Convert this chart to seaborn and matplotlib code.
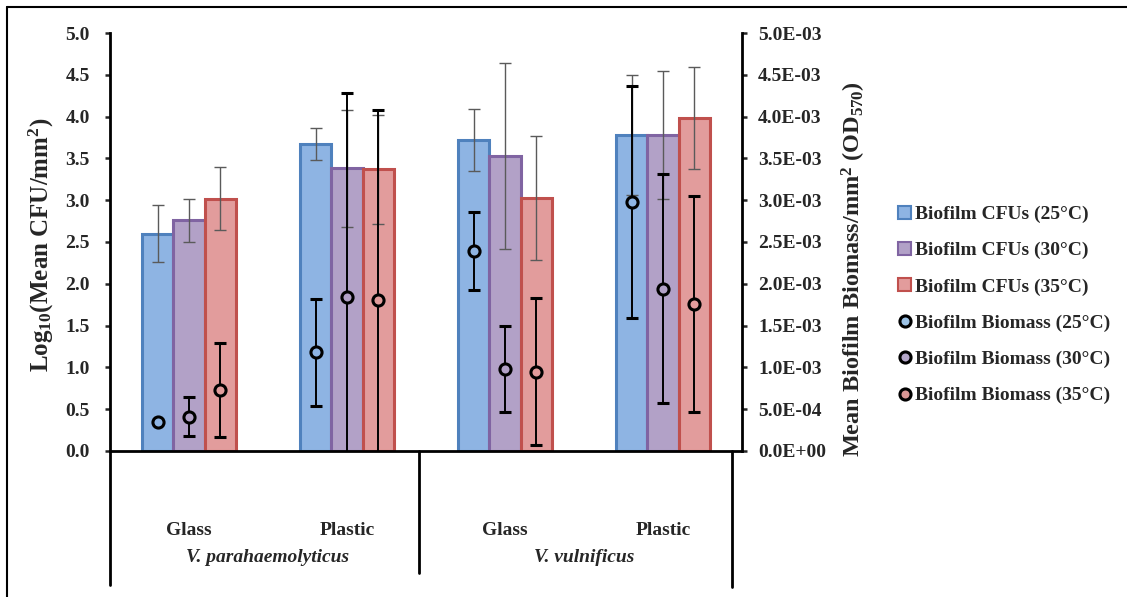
"""
Biofilm CFUs (bars, left axis) and biofilm biomass (circles, right axis)
for V. parahaemolyticus and V. vulnificus on glass and plastic.
"""

import matplotlib
matplotlib.use('Agg')
import matplotlib.pyplot as plt
from matplotlib.lines import Line2D
from matplotlib.patches import Patch
import pandas as pd
import seaborn as sns

# data
groups = ['Vp Glass', 'Vp Plastic', 'Vv Glass', 'Vv Plastic']
surfaces = ['Glass', 'Plastic', 'Glass', 'Plastic']
species = ['V. parahaemolyticus', 'V. vulnificus']
temps = ['25°C', '30°C', '35°C']

cfu_25 = [2.60, 3.67, 3.72, 3.78]
cfu_30 = [2.76, 3.38, 3.53, 3.78]
cfu_35 = [3.02, 3.37, 3.03, 3.98]
cfu_err_25 = [0.34, 0.195, 0.37, 0.72]
cfu_err_30 = [0.26, 0.705, 1.11, 0.765]
cfu_err_35 = [0.375, 0.655, 0.74, 0.61]

bio_25 = [3.5e-4, 1.18e-3, 2.39e-3, 2.98e-3]
bio_30 = [4.1e-4, 1.84e-3, 9.85e-4, 1.94e-3]
bio_35 = [7.3e-4, 1.81e-3, 9.5e-4, 1.76e-3]
bio_err_25 = [0.0, 6.4e-4, 4.7e-4, 1.39e-3]
bio_err_30 = [2.35e-4, 2.44e-3, 5.15e-4, 1.37e-3]
bio_err_35 = [5.6e-4, 2.27e-3, 8.8e-4, 1.29e-3]

cfu = [cfu_25, cfu_30, cfu_35]
cfu_err = [cfu_err_25, cfu_err_30, cfu_err_35]
bio = [bio_25, bio_30, bio_35]
bio_err = [bio_err_25, bio_err_30, bio_err_35]

fills = ['#8EB4E3', '#B2A1C7', '#E29C9C']
edges = ['#4F81BD', '#8064A2', '#C0504D']
bio_faces = ['#9DC3E6', '#B4A7C9', '#D99694']

rows = []
for t, vals in zip(temps, cfu):
    for g, v in zip(groups, vals):
        rows.append({'group': g, 'temp': t, 'value': v})
df = pd.DataFrame(rows)

# plotting
sns.set_style('white')
plt.rcParams['font.family'] = ['Liberation Serif', 'DejaVu Serif']
plt.rcParams['font.weight'] = 'bold'
plt.rcParams['mathtext.fontset'] = 'custom'
plt.rcParams['mathtext.rm'] = 'Liberation Serif:bold'
plt.rcParams['mathtext.default'] = 'rm'
fs = 14
lfs = 17.5

fig = plt.figure(figsize=(11.27, 5.97), dpi=100)
ax = fig.add_axes([0.0976, 0.2446, 0.5608, 0.7001])

sns.barplot(data=df, x='group', y='value', hue='temp', order=groups, hue_order=temps,
            palette=fills, width=0.59, saturation=1, ax=ax, legend=False, errorbar=None)

ax2 = ax.twinx()
bar_sets = list(ax.containers)
for i, bars in enumerate(bar_sets):
    xs = []
    for p in bars.patches:
        p.set_edgecolor(edges[i])
        p.set_linewidth(2.2)
        xs.append(p.get_x() + p.get_width() / 2)
    ax.errorbar(xs, cfu[i], yerr=cfu_err[i], fmt='none', ecolor='#5a5a5a',
                elinewidth=1.0, capsize=4, capthick=1.0, zorder=5)
    ax2.errorbar(xs, bio[i], yerr=bio_err[i], fmt='o', color='black',
                 markerfacecolor=fills[i], markeredgecolor='black', markersize=8,
                 markeredgewidth=2.2, elinewidth=1.4, capsize=4, capthick=1.4, zorder=5)

ax.set_xlim(-0.5, 3.5)
ax.set_ylim(0, 5.0)
ax2.set_ylim(0, 5.0e-3)
ax.set_yticks([i * 0.5 for i in range(11)])
ax.set_yticklabels(['{:.1f}'.format(i * 0.5) for i in range(11)], fontsize=fs, fontweight='bold')
ax2.set_yticks([i * 5e-4 for i in range(11)])
ax2.set_yticklabels(['{:.1E}'.format(i * 5e-4) for i in range(11)], fontsize=fs, fontweight='bold')

ax.set_xticks(range(4))
ax.set_xticklabels(surfaces, fontsize=fs, fontweight='bold')
ax.tick_params(axis='x', length=0, pad=51)
ax.tick_params(axis='y', direction='out', length=3.5, width=1.8, left=True, pad=11)
ax2.tick_params(axis='y', direction='out', length=3.5, width=1.8, right=True, pad=8)
ax.set_xlabel('')

for a in [ax, ax2]:
    a.spines['top'].set_visible(False)
    for s in ['left', 'right', 'bottom']:
        a.spines[s].set_color('black')
        a.spines[s].set_linewidth(2.0)
ax.spines['right'].set_visible(False)
ax2.spines['left'].set_visible(False)
ax2.spines['bottom'].set_visible(False)

ax.set_ylabel('Log$_{10}$(Mean CFU/mm$^{2}$)', fontsize=18, fontweight='bold')
ax.yaxis.set_label_coords(-0.086, 0.493)
ax2.set_ylabel('Mean Biofilm Biomass/mm$^{2}$ (OD$_{570}$)', fontsize=lfs, fontweight='bold')
ax2.yaxis.set_label_coords(1.155, 0.435)

# species labels and separators below the axis
ax.text(0.5, -0.254, species[0], transform=ax.get_xaxis_transform(), ha='center', va='center',
        fontsize=fs, fontweight='bold', fontstyle='italic')
ax.text(2.5, -0.254, species[1], transform=ax.get_xaxis_transform(), ha='center', va='center',
        fontsize=fs, fontweight='bold', fontstyle='italic')
for xf, yb in [(0.0, -0.32), (0.489, -0.292), (0.984, -0.325)]:
    ax.add_line(Line2D([xf, xf], [0, yb], transform=ax.transAxes, color='black',
                       linewidth=2.0, clip_on=False))

# legend
handles = [Patch(facecolor=fills[i], edgecolor=edges[i], linewidth=1.5) for i in range(3)]
handles += [Line2D([], [], marker='o', linestyle='none', markerfacecolor=bio_faces[i],
                   markeredgecolor='black', markersize=8, markeredgewidth=2.2) for i in range(3)]
labels = ['Biofilm CFUs ({})'.format(t) for t in temps] + ['Biofilm Biomass ({})'.format(t) for t in temps]
fig.legend(handles, labels, loc='center left', bbox_to_anchor=(0.797, 0.489), frameon=False,
           prop={'size': fs, 'weight': 'bold'}, handlelength=0.65, handleheight=0.65,
           handletextpad=0.2, labelspacing=0.97, borderpad=0, borderaxespad=0)

# frame lines at top and left of the figure
fig.add_artist(Line2D([0.006, 1.0], [0.988, 0.988], transform=fig.transFigure, color='black', linewidth=1.5))
fig.add_artist(Line2D([0.006, 0.006], [0.0, 0.988], transform=fig.transFigure, color='black', linewidth=1.5))

fig.savefig('out.png', dpi=100)
